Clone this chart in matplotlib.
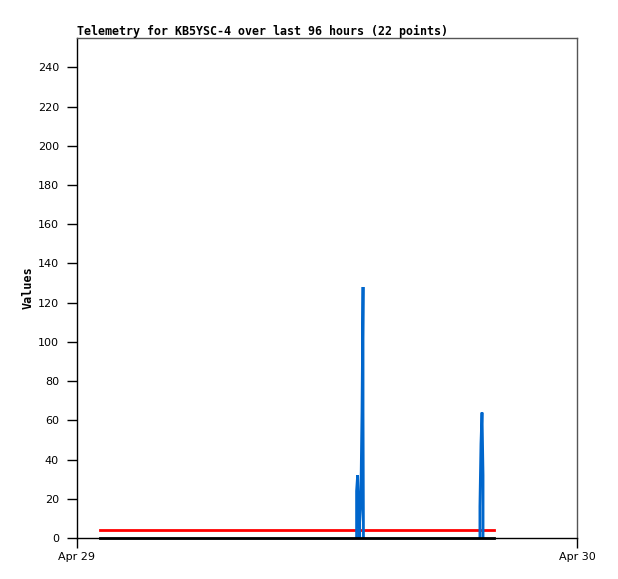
import datetime as dt
import matplotlib
matplotlib.use("Agg")
import matplotlib.pyplot as plt
import matplotlib.dates as mdates

# --- datos (horas desde Apr 29 00:00) ---
inicio = dt.datetime(2024, 4, 29)
horas_azul_1 = [13.42, 13.42, 13.47, 13.52, 13.57, 13.57, 13.62, 13.68, 13.73, 13.73, 13.75]
valores_azul_1 = [0, 24, 32, 16, 0, 8, 16, 64, 128, 64, 0]
horas_azul_2 = [19.34, 19.34, 19.39, 19.44, 19.49, 19.49]
valores_azul_2 = [0, 16, 48, 64, 32, 0]
horas_rojo = [1.10, 20.02]
valores_rojo = [4, 4]
horas_negro = [1.10, 20.02]
valores_negro = [0, 0]
y_ticks = list(range(0, 241, 20))
x_ticks = [inicio, inicio + dt.timedelta(days=1)]


def a_fechas(horas):
    return [inicio + dt.timedelta(hours=h) for h in horas]


fig = plt.figure(figsize=(6.18, 5.79), dpi=100)
ax = fig.add_axes([77 / 618, 41 / 579, 500 / 618, 500 / 579])

ax.plot(a_fechas(horas_rojo), valores_rojo, color="#ff0000", linewidth=2, zorder=3)
for hs, vs in [(horas_azul_1, valores_azul_1), (horas_azul_2, valores_azul_2)]:
    ax.plot(a_fechas(hs), vs, color="#0066cc", linewidth=2,
            solid_joinstyle="bevel", solid_capstyle="butt", zorder=4)
ax.plot(a_fechas(horas_negro), valores_negro, color="black", linewidth=2, clip_on=False, zorder=5)

ax.set_xlim(x_ticks[0], x_ticks[1])
ax.set_ylim(0, 255)
ax.set_yticks(y_ticks)
ax.set_xticks(x_ticks)
ax.xaxis.set_major_formatter(mdates.DateFormatter("%b %d"))

for lado in ["top", "right"]:
    ax.spines[lado].set_color("#555555")
ax.spines["left"].set_color("black")
ax.spines["bottom"].set_color("black")
for s in ax.spines.values():
    s.set_linewidth(1)

ax.tick_params(axis="both", direction="out", length=7, width=1, labelsize=8)
ax.tick_params(axis="y", pad=6)
ax.tick_params(axis="x", pad=3)

ax.set_title("Telemetry for KB5YSC-4 over last 96 hours (22 points)",
             loc="left", fontsize=8.4, fontweight="bold", family="DejaVu Sans Mono", pad=2)
ax.set_ylabel("Values", fontsize=8.5, fontweight="bold", family="DejaVu Sans Mono", labelpad=2)

fig.savefig("out.png", dpi=100)
